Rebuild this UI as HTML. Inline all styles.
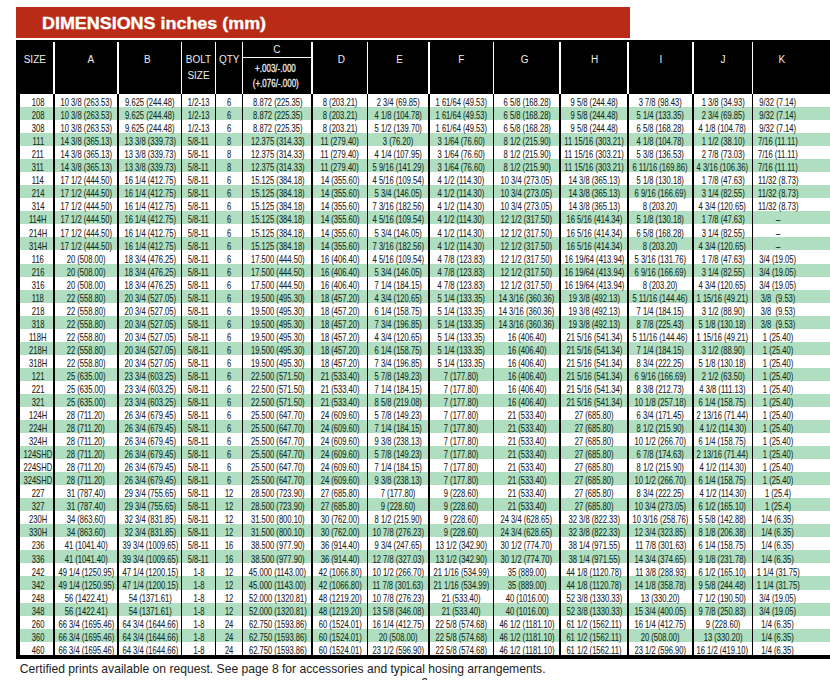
<!DOCTYPE html><html><head><meta charset="utf-8"><style>
html,body{margin:0;padding:0;background:#fff;}
body{width:830px;height:680px;position:relative;overflow:hidden;font-family:"Liberation Sans",sans-serif;}
.a{position:absolute;}
.c{position:absolute;display:flex;justify-content:center;white-space:pre;font-size:11px;line-height:13.04px;color:#232323;-webkit-text-stroke:0.1px currentColor;}
.c span{display:inline-block;transform:scaleX(0.69);transform-origin:50% 50%;}
.g{color:#17301f;}
.h{position:absolute;color:#ececec;white-space:pre;font-size:10px;line-height:11px;}
</style></head><body>
<div class="a" style="left:16px;top:7px;width:613.8px;height:30.8px;background:#b92b16"></div>
<div class="a" style="left:41.5px;top:14.5px;font-size:16px;line-height:18px;font-weight:bold;color:#fff;white-space:pre;transform:scaleX(1.12);transform-origin:0 0;-webkit-text-stroke:0.35px #fff">DIMENSIONS inches (mm)</div>
<div class="a" style="left:16px;top:39.5px;width:814px;height:54.50px;background:#000"></div>
<div class="a" style="left:16px;top:94.00px;width:3.6px;height:564.42px;background:#000"></div>
<div class="a" style="left:16px;top:654.72px;width:814px;height:4px;background:#000"></div>
<div class="a" style="left:19.60px;top:107.04px;width:810.40px;height:13.04px;background:#b0dec0"></div>
<div class="a" style="left:19.60px;top:133.12px;width:810.40px;height:13.04px;background:#b0dec0"></div>
<div class="a" style="left:19.60px;top:159.20px;width:810.40px;height:13.04px;background:#b0dec0"></div>
<div class="a" style="left:19.60px;top:185.28px;width:810.40px;height:13.04px;background:#b0dec0"></div>
<div class="a" style="left:19.60px;top:211.36px;width:810.40px;height:13.04px;background:#b0dec0"></div>
<div class="a" style="left:19.60px;top:237.44px;width:810.40px;height:13.04px;background:#b0dec0"></div>
<div class="a" style="left:19.60px;top:263.52px;width:810.40px;height:13.04px;background:#b0dec0"></div>
<div class="a" style="left:19.60px;top:289.60px;width:810.40px;height:13.04px;background:#b0dec0"></div>
<div class="a" style="left:19.60px;top:315.68px;width:810.40px;height:13.04px;background:#b0dec0"></div>
<div class="a" style="left:19.60px;top:341.76px;width:810.40px;height:13.04px;background:#b0dec0"></div>
<div class="a" style="left:19.60px;top:367.84px;width:810.40px;height:13.04px;background:#b0dec0"></div>
<div class="a" style="left:19.60px;top:393.92px;width:810.40px;height:13.04px;background:#b0dec0"></div>
<div class="a" style="left:19.60px;top:420.00px;width:810.40px;height:13.04px;background:#b0dec0"></div>
<div class="a" style="left:19.60px;top:446.08px;width:810.40px;height:13.04px;background:#b0dec0"></div>
<div class="a" style="left:19.60px;top:472.16px;width:810.40px;height:13.04px;background:#b0dec0"></div>
<div class="a" style="left:19.60px;top:498.24px;width:810.40px;height:13.04px;background:#b0dec0"></div>
<div class="a" style="left:19.60px;top:524.32px;width:810.40px;height:13.04px;background:#b0dec0"></div>
<div class="a" style="left:19.60px;top:550.40px;width:810.40px;height:13.04px;background:#b0dec0"></div>
<div class="a" style="left:19.60px;top:576.48px;width:810.40px;height:13.04px;background:#b0dec0"></div>
<div class="a" style="left:19.60px;top:602.56px;width:810.40px;height:13.04px;background:#b0dec0"></div>
<div class="a" style="left:19.60px;top:628.64px;width:810.40px;height:13.04px;background:#b0dec0"></div>
<div class="a" style="left:53.30px;top:94.00px;width:1.8px;height:560.72px;background:#000"></div>
<div class="a" style="left:53.40px;top:41.5px;width:1.6px;height:52.50px;background:#fff"></div>
<div class="a" style="left:117.30px;top:94.00px;width:1.8px;height:560.72px;background:#000"></div>
<div class="a" style="left:117.40px;top:41.5px;width:1.6px;height:52.50px;background:#fff"></div>
<div class="a" style="left:180.70px;top:94.00px;width:1.8px;height:560.72px;background:#000"></div>
<div class="a" style="left:180.80px;top:41.5px;width:1.6px;height:52.50px;background:#fff"></div>
<div class="a" style="left:214.60px;top:94.00px;width:1.8px;height:560.72px;background:#000"></div>
<div class="a" style="left:214.70px;top:41.5px;width:1.6px;height:52.50px;background:#fff"></div>
<div class="a" style="left:241.70px;top:94.00px;width:1.8px;height:560.72px;background:#000"></div>
<div class="a" style="left:241.80px;top:41.5px;width:1.6px;height:52.50px;background:#fff"></div>
<div class="a" style="left:311.30px;top:94.00px;width:1.8px;height:560.72px;background:#000"></div>
<div class="a" style="left:311.40px;top:41.5px;width:1.6px;height:52.50px;background:#fff"></div>
<div class="a" style="left:366.50px;top:94.00px;width:1.8px;height:560.72px;background:#000"></div>
<div class="a" style="left:366.60px;top:41.5px;width:1.6px;height:52.50px;background:#fff"></div>
<div class="a" style="left:428.10px;top:94.00px;width:1.8px;height:560.72px;background:#000"></div>
<div class="a" style="left:428.20px;top:41.5px;width:1.6px;height:52.50px;background:#fff"></div>
<div class="a" style="left:492.70px;top:94.00px;width:1.8px;height:560.72px;background:#000"></div>
<div class="a" style="left:492.80px;top:41.5px;width:1.6px;height:52.50px;background:#fff"></div>
<div class="a" style="left:559.00px;top:94.00px;width:1.8px;height:560.72px;background:#000"></div>
<div class="a" style="left:559.10px;top:41.5px;width:1.6px;height:52.50px;background:#fff"></div>
<div class="a" style="left:627.10px;top:94.00px;width:1.8px;height:560.72px;background:#000"></div>
<div class="a" style="left:627.20px;top:41.5px;width:1.6px;height:52.50px;background:#fff"></div>
<div class="a" style="left:692.00px;top:94.00px;width:1.8px;height:560.72px;background:#000"></div>
<div class="a" style="left:692.10px;top:41.5px;width:1.6px;height:52.50px;background:#fff"></div>
<div class="a" style="left:751.70px;top:94.00px;width:1.8px;height:560.72px;background:#000"></div>
<div class="a" style="left:751.80px;top:41.5px;width:1.6px;height:52.50px;background:#fff"></div>
<div class="a" style="left:242.60px;top:56.6px;width:69.60px;height:1.5px;background:#fff"></div>
<div class="c" style="left:22.00px;top:96.10px;width:32.20px"><span>108</span></div>
<div class="c" style="left:54.20px;top:96.10px;width:64.00px"><span>10 3/8 (263.53)</span></div>
<div class="c" style="left:118.20px;top:96.10px;width:63.40px"><span>9.625 (244.48)</span></div>
<div class="c" style="left:181.60px;top:96.10px;width:33.90px"><span>1/2-13</span></div>
<div class="c" style="left:215.50px;top:96.10px;width:27.10px"><span>6</span></div>
<div class="c" style="left:242.60px;top:96.10px;width:69.60px"><span>8.872 (225.35)</span></div>
<div class="c" style="left:312.20px;top:96.10px;width:55.20px"><span>8 (203.21)</span></div>
<div class="c" style="left:367.40px;top:96.10px;width:61.60px"><span>2 3/4 (69.85)</span></div>
<div class="c" style="left:429.00px;top:96.10px;width:64.60px"><span>1 61/64 (49.53)</span></div>
<div class="c" style="left:493.60px;top:96.10px;width:66.30px"><span>6 5/8 (168.28)</span></div>
<div class="c" style="left:559.90px;top:96.10px;width:68.10px"><span>9 5/8 (244.48)</span></div>
<div class="c" style="left:628.00px;top:96.10px;width:64.90px"><span>3 7/8 (98.43)</span></div>
<div class="c" style="left:692.90px;top:96.10px;width:59.70px"><span>1 3/8 (34.93)</span></div>
<div class="c" style="left:752.60px;top:96.10px;width:50.90px"><span>9/32 (7.14)</span></div>
<div class="c g" style="left:22.00px;top:109.14px;width:32.20px"><span>208</span></div>
<div class="c g" style="left:54.20px;top:109.14px;width:64.00px"><span>10 3/8 (263.53)</span></div>
<div class="c g" style="left:118.20px;top:109.14px;width:63.40px"><span>9.625 (244.48)</span></div>
<div class="c g" style="left:181.60px;top:109.14px;width:33.90px"><span>1/2-13</span></div>
<div class="c g" style="left:215.50px;top:109.14px;width:27.10px"><span>6</span></div>
<div class="c g" style="left:242.60px;top:109.14px;width:69.60px"><span>8.872 (225.35)</span></div>
<div class="c g" style="left:312.20px;top:109.14px;width:55.20px"><span>8 (203.21)</span></div>
<div class="c g" style="left:367.40px;top:109.14px;width:61.60px"><span>4 1/8 (104.78)</span></div>
<div class="c g" style="left:429.00px;top:109.14px;width:64.60px"><span>1 61/64 (49.53)</span></div>
<div class="c g" style="left:493.60px;top:109.14px;width:66.30px"><span>6 5/8 (168.28)</span></div>
<div class="c g" style="left:559.90px;top:109.14px;width:68.10px"><span>9 5/8 (244.48)</span></div>
<div class="c g" style="left:628.00px;top:109.14px;width:64.90px"><span>5 1/4 (133.35)</span></div>
<div class="c g" style="left:692.90px;top:109.14px;width:59.70px"><span>2 3/4 (69.85)</span></div>
<div class="c g" style="left:752.60px;top:109.14px;width:50.90px"><span>9/32 (7.14)</span></div>
<div class="c" style="left:22.00px;top:122.18px;width:32.20px"><span>308</span></div>
<div class="c" style="left:54.20px;top:122.18px;width:64.00px"><span>10 3/8 (263.53)</span></div>
<div class="c" style="left:118.20px;top:122.18px;width:63.40px"><span>9.625 (244.48)</span></div>
<div class="c" style="left:181.60px;top:122.18px;width:33.90px"><span>1/2-13</span></div>
<div class="c" style="left:215.50px;top:122.18px;width:27.10px"><span>6</span></div>
<div class="c" style="left:242.60px;top:122.18px;width:69.60px"><span>8.872 (225.35)</span></div>
<div class="c" style="left:312.20px;top:122.18px;width:55.20px"><span>8 (203.21)</span></div>
<div class="c" style="left:367.40px;top:122.18px;width:61.60px"><span>5 1/2 (139.70)</span></div>
<div class="c" style="left:429.00px;top:122.18px;width:64.60px"><span>1 61/64 (49.53)</span></div>
<div class="c" style="left:493.60px;top:122.18px;width:66.30px"><span>6 5/8 (168.28)</span></div>
<div class="c" style="left:559.90px;top:122.18px;width:68.10px"><span>9 5/8 (244.48)</span></div>
<div class="c" style="left:628.00px;top:122.18px;width:64.90px"><span>6 5/8 (168.28)</span></div>
<div class="c" style="left:692.90px;top:122.18px;width:59.70px"><span>4 1/8 (104.78)</span></div>
<div class="c" style="left:752.60px;top:122.18px;width:50.90px"><span>9/32 (7.14)</span></div>
<div class="c g" style="left:22.00px;top:135.22px;width:32.20px"><span>111</span></div>
<div class="c g" style="left:54.20px;top:135.22px;width:64.00px"><span>14 3/8 (365.13)</span></div>
<div class="c g" style="left:118.20px;top:135.22px;width:63.40px"><span>13 3/8 (339.73)</span></div>
<div class="c g" style="left:181.60px;top:135.22px;width:33.90px"><span>5/8-11</span></div>
<div class="c g" style="left:215.50px;top:135.22px;width:27.10px"><span>8</span></div>
<div class="c g" style="left:242.60px;top:135.22px;width:69.60px"><span>12.375 (314.33)</span></div>
<div class="c g" style="left:312.20px;top:135.22px;width:55.20px"><span>11 (279.40)</span></div>
<div class="c g" style="left:367.40px;top:135.22px;width:61.60px"><span>3 (76.20)</span></div>
<div class="c g" style="left:429.00px;top:135.22px;width:64.60px"><span>3 1/64 (76.60)</span></div>
<div class="c g" style="left:493.60px;top:135.22px;width:66.30px"><span>8 1/2 (215.90)</span></div>
<div class="c g" style="left:559.90px;top:135.22px;width:68.10px"><span>11 15/16 (303.21)</span></div>
<div class="c g" style="left:628.00px;top:135.22px;width:64.90px"><span>4 1/8 (104.78)</span></div>
<div class="c g" style="left:692.90px;top:135.22px;width:59.70px"><span>1 1/2 (38.10)</span></div>
<div class="c g" style="left:752.60px;top:135.22px;width:50.90px"><span>7/16 (11.11)</span></div>
<div class="c" style="left:22.00px;top:148.26px;width:32.20px"><span>211</span></div>
<div class="c" style="left:54.20px;top:148.26px;width:64.00px"><span>14 3/8 (365.13)</span></div>
<div class="c" style="left:118.20px;top:148.26px;width:63.40px"><span>13 3/8 (339.73)</span></div>
<div class="c" style="left:181.60px;top:148.26px;width:33.90px"><span>5/8-11</span></div>
<div class="c" style="left:215.50px;top:148.26px;width:27.10px"><span>8</span></div>
<div class="c" style="left:242.60px;top:148.26px;width:69.60px"><span>12.375 (314.33)</span></div>
<div class="c" style="left:312.20px;top:148.26px;width:55.20px"><span>11 (279.40)</span></div>
<div class="c" style="left:367.40px;top:148.26px;width:61.60px"><span>4 1/4 (107.95)</span></div>
<div class="c" style="left:429.00px;top:148.26px;width:64.60px"><span>3 1/64 (76.60)</span></div>
<div class="c" style="left:493.60px;top:148.26px;width:66.30px"><span>8 1/2 (215.90)</span></div>
<div class="c" style="left:559.90px;top:148.26px;width:68.10px"><span>11 15/16 (303.21)</span></div>
<div class="c" style="left:628.00px;top:148.26px;width:64.90px"><span>5 3/8 (136.53)</span></div>
<div class="c" style="left:692.90px;top:148.26px;width:59.70px"><span>2 7/8 (73.03)</span></div>
<div class="c" style="left:752.60px;top:148.26px;width:50.90px"><span>7/16 (11.11)</span></div>
<div class="c g" style="left:22.00px;top:161.30px;width:32.20px"><span>311</span></div>
<div class="c g" style="left:54.20px;top:161.30px;width:64.00px"><span>14 3/8 (365.13)</span></div>
<div class="c g" style="left:118.20px;top:161.30px;width:63.40px"><span>13 3/8 (339.73)</span></div>
<div class="c g" style="left:181.60px;top:161.30px;width:33.90px"><span>5/8-11</span></div>
<div class="c g" style="left:215.50px;top:161.30px;width:27.10px"><span>8</span></div>
<div class="c g" style="left:242.60px;top:161.30px;width:69.60px"><span>12.375 (314.33)</span></div>
<div class="c g" style="left:312.20px;top:161.30px;width:55.20px"><span>11 (279.40)</span></div>
<div class="c g" style="left:367.40px;top:161.30px;width:61.60px"><span>5 9/16 (141.29)</span></div>
<div class="c g" style="left:429.00px;top:161.30px;width:64.60px"><span>3 1/64 (76.60)</span></div>
<div class="c g" style="left:493.60px;top:161.30px;width:66.30px"><span>8 1/2 (215.90)</span></div>
<div class="c g" style="left:559.90px;top:161.30px;width:68.10px"><span>11 15/16 (303.21)</span></div>
<div class="c g" style="left:628.00px;top:161.30px;width:64.90px"><span>6 11/16 (169.86)</span></div>
<div class="c g" style="left:692.90px;top:161.30px;width:59.70px"><span>4 3/16 (106.36)</span></div>
<div class="c g" style="left:752.60px;top:161.30px;width:50.90px"><span>7/16 (11.11)</span></div>
<div class="c" style="left:22.00px;top:174.34px;width:32.20px"><span>114</span></div>
<div class="c" style="left:54.20px;top:174.34px;width:64.00px"><span>17 1/2 (444.50)</span></div>
<div class="c" style="left:118.20px;top:174.34px;width:63.40px"><span>16 1/4 (412.75)</span></div>
<div class="c" style="left:181.60px;top:174.34px;width:33.90px"><span>5/8-11</span></div>
<div class="c" style="left:215.50px;top:174.34px;width:27.10px"><span>6</span></div>
<div class="c" style="left:242.60px;top:174.34px;width:69.60px"><span>15.125 (384.18)</span></div>
<div class="c" style="left:312.20px;top:174.34px;width:55.20px"><span>14 (355.60)</span></div>
<div class="c" style="left:367.40px;top:174.34px;width:61.60px"><span>4 5/16 (109.54)</span></div>
<div class="c" style="left:429.00px;top:174.34px;width:64.60px"><span>4 1/2 (114.30)</span></div>
<div class="c" style="left:493.60px;top:174.34px;width:66.30px"><span>10 3/4 (273.05)</span></div>
<div class="c" style="left:559.90px;top:174.34px;width:68.10px"><span>14 3/8 (365.13)</span></div>
<div class="c" style="left:628.00px;top:174.34px;width:64.90px"><span>5 1/8 (130.18)</span></div>
<div class="c" style="left:692.90px;top:174.34px;width:59.70px"><span>1 7/8 (47.63)</span></div>
<div class="c" style="left:752.60px;top:174.34px;width:50.90px"><span>11/32 (8.73)</span></div>
<div class="c g" style="left:22.00px;top:187.38px;width:32.20px"><span>214</span></div>
<div class="c g" style="left:54.20px;top:187.38px;width:64.00px"><span>17 1/2 (444.50)</span></div>
<div class="c g" style="left:118.20px;top:187.38px;width:63.40px"><span>16 1/4 (412.75)</span></div>
<div class="c g" style="left:181.60px;top:187.38px;width:33.90px"><span>5/8-11</span></div>
<div class="c g" style="left:215.50px;top:187.38px;width:27.10px"><span>6</span></div>
<div class="c g" style="left:242.60px;top:187.38px;width:69.60px"><span>15.125 (384.18)</span></div>
<div class="c g" style="left:312.20px;top:187.38px;width:55.20px"><span>14 (355.60)</span></div>
<div class="c g" style="left:367.40px;top:187.38px;width:61.60px"><span>5 3/4 (146.05)</span></div>
<div class="c g" style="left:429.00px;top:187.38px;width:64.60px"><span>4 1/2 (114.30)</span></div>
<div class="c g" style="left:493.60px;top:187.38px;width:66.30px"><span>10 3/4 (273.05)</span></div>
<div class="c g" style="left:559.90px;top:187.38px;width:68.10px"><span>14 3/8 (365.13)</span></div>
<div class="c g" style="left:628.00px;top:187.38px;width:64.90px"><span>6 9/16 (166.69)</span></div>
<div class="c g" style="left:692.90px;top:187.38px;width:59.70px"><span>3 1/4 (82.55)</span></div>
<div class="c g" style="left:752.60px;top:187.38px;width:50.90px"><span>11/32 (8.73)</span></div>
<div class="c" style="left:22.00px;top:200.42px;width:32.20px"><span>314</span></div>
<div class="c" style="left:54.20px;top:200.42px;width:64.00px"><span>17 1/2 (444.50)</span></div>
<div class="c" style="left:118.20px;top:200.42px;width:63.40px"><span>16 1/4 (412.75)</span></div>
<div class="c" style="left:181.60px;top:200.42px;width:33.90px"><span>5/8-11</span></div>
<div class="c" style="left:215.50px;top:200.42px;width:27.10px"><span>6</span></div>
<div class="c" style="left:242.60px;top:200.42px;width:69.60px"><span>15.125 (384.18)</span></div>
<div class="c" style="left:312.20px;top:200.42px;width:55.20px"><span>14 (355.60)</span></div>
<div class="c" style="left:367.40px;top:200.42px;width:61.60px"><span>7 3/16 (182.56)</span></div>
<div class="c" style="left:429.00px;top:200.42px;width:64.60px"><span>4 1/2 (114.30)</span></div>
<div class="c" style="left:493.60px;top:200.42px;width:66.30px"><span>10 3/4 (273.05)</span></div>
<div class="c" style="left:559.90px;top:200.42px;width:68.10px"><span>14 3/8 (365.13)</span></div>
<div class="c" style="left:628.00px;top:200.42px;width:64.90px"><span>8 (203.20)</span></div>
<div class="c" style="left:692.90px;top:200.42px;width:59.70px"><span>4 3/4 (120.65)</span></div>
<div class="c" style="left:752.60px;top:200.42px;width:50.90px"><span>11/32 (8.73)</span></div>
<div class="c g" style="left:22.00px;top:213.46px;width:32.20px"><span>114H</span></div>
<div class="c g" style="left:54.20px;top:213.46px;width:64.00px"><span>17 1/2 (444.50)</span></div>
<div class="c g" style="left:118.20px;top:213.46px;width:63.40px"><span>16 1/4 (412.75)</span></div>
<div class="c g" style="left:181.60px;top:213.46px;width:33.90px"><span>5/8-11</span></div>
<div class="c g" style="left:215.50px;top:213.46px;width:27.10px"><span>6</span></div>
<div class="c g" style="left:242.60px;top:213.46px;width:69.60px"><span>15.125 (384.18)</span></div>
<div class="c g" style="left:312.20px;top:213.46px;width:55.20px"><span>14 (355.60)</span></div>
<div class="c g" style="left:367.40px;top:213.46px;width:61.60px"><span>4 5/16 (109.54)</span></div>
<div class="c g" style="left:429.00px;top:213.46px;width:64.60px"><span>4 1/2 (114.30)</span></div>
<div class="c g" style="left:493.60px;top:213.46px;width:66.30px"><span>12 1/2 (317.50)</span></div>
<div class="c g" style="left:559.90px;top:213.46px;width:68.10px"><span>16 5/16 (414.34)</span></div>
<div class="c g" style="left:628.00px;top:213.46px;width:64.90px"><span>5 1/8 (130.18)</span></div>
<div class="c g" style="left:692.90px;top:213.46px;width:59.70px"><span>1 7/8 (47.63)</span></div>
<div class="c g" style="left:752.60px;top:213.46px;width:50.90px"><span>–</span></div>
<div class="c" style="left:22.00px;top:226.50px;width:32.20px"><span>214H</span></div>
<div class="c" style="left:54.20px;top:226.50px;width:64.00px"><span>17 1/2 (444.50)</span></div>
<div class="c" style="left:118.20px;top:226.50px;width:63.40px"><span>16 1/4 (412.75)</span></div>
<div class="c" style="left:181.60px;top:226.50px;width:33.90px"><span>5/8-11</span></div>
<div class="c" style="left:215.50px;top:226.50px;width:27.10px"><span>6</span></div>
<div class="c" style="left:242.60px;top:226.50px;width:69.60px"><span>15.125 (384.18)</span></div>
<div class="c" style="left:312.20px;top:226.50px;width:55.20px"><span>14 (355.60)</span></div>
<div class="c" style="left:367.40px;top:226.50px;width:61.60px"><span>5 3/4 (146.05)</span></div>
<div class="c" style="left:429.00px;top:226.50px;width:64.60px"><span>4 1/2 (114.30)</span></div>
<div class="c" style="left:493.60px;top:226.50px;width:66.30px"><span>12 1/2 (317.50)</span></div>
<div class="c" style="left:559.90px;top:226.50px;width:68.10px"><span>16 5/16 (414.34)</span></div>
<div class="c" style="left:628.00px;top:226.50px;width:64.90px"><span>6 5/8 (168.28)</span></div>
<div class="c" style="left:692.90px;top:226.50px;width:59.70px"><span>3 1/4 (82.55)</span></div>
<div class="c" style="left:752.60px;top:226.50px;width:50.90px"><span>–</span></div>
<div class="c g" style="left:22.00px;top:239.54px;width:32.20px"><span>314H</span></div>
<div class="c g" style="left:54.20px;top:239.54px;width:64.00px"><span>17 1/2 (444.50)</span></div>
<div class="c g" style="left:118.20px;top:239.54px;width:63.40px"><span>16 1/4 (412.75)</span></div>
<div class="c g" style="left:181.60px;top:239.54px;width:33.90px"><span>5/8-11</span></div>
<div class="c g" style="left:215.50px;top:239.54px;width:27.10px"><span>6</span></div>
<div class="c g" style="left:242.60px;top:239.54px;width:69.60px"><span>15.125 (384.18)</span></div>
<div class="c g" style="left:312.20px;top:239.54px;width:55.20px"><span>14 (355.60)</span></div>
<div class="c g" style="left:367.40px;top:239.54px;width:61.60px"><span>7 3/16 (182.56)</span></div>
<div class="c g" style="left:429.00px;top:239.54px;width:64.60px"><span>4 1/2 (114.30)</span></div>
<div class="c g" style="left:493.60px;top:239.54px;width:66.30px"><span>12 1/2 (317.50)</span></div>
<div class="c g" style="left:559.90px;top:239.54px;width:68.10px"><span>16 5/16 (414.34)</span></div>
<div class="c g" style="left:628.00px;top:239.54px;width:64.90px"><span>8 (203.20)</span></div>
<div class="c g" style="left:692.90px;top:239.54px;width:59.70px"><span>4 3/4 (120.65)</span></div>
<div class="c g" style="left:752.60px;top:239.54px;width:50.90px"><span>–</span></div>
<div class="c" style="left:22.00px;top:252.58px;width:32.20px"><span>116</span></div>
<div class="c" style="left:54.20px;top:252.58px;width:64.00px"><span>20 (508.00)</span></div>
<div class="c" style="left:118.20px;top:252.58px;width:63.40px"><span>18 3/4 (476.25)</span></div>
<div class="c" style="left:181.60px;top:252.58px;width:33.90px"><span>5/8-11</span></div>
<div class="c" style="left:215.50px;top:252.58px;width:27.10px"><span>6</span></div>
<div class="c" style="left:242.60px;top:252.58px;width:69.60px"><span>17.500 (444.50)</span></div>
<div class="c" style="left:312.20px;top:252.58px;width:55.20px"><span>16 (406.40)</span></div>
<div class="c" style="left:367.40px;top:252.58px;width:61.60px"><span>4 5/16 (109.54)</span></div>
<div class="c" style="left:429.00px;top:252.58px;width:64.60px"><span>4 7/8 (123.83)</span></div>
<div class="c" style="left:493.60px;top:252.58px;width:66.30px"><span>12 1/2 (317.50)</span></div>
<div class="c" style="left:559.90px;top:252.58px;width:68.10px"><span>16 19/64 (413.94)</span></div>
<div class="c" style="left:628.00px;top:252.58px;width:64.90px"><span>5 3/16 (131.76)</span></div>
<div class="c" style="left:692.90px;top:252.58px;width:59.70px"><span>1 7/8 (47.63)</span></div>
<div class="c" style="left:752.60px;top:252.58px;width:50.90px"><span>3/4 (19.05)</span></div>
<div class="c g" style="left:22.00px;top:265.62px;width:32.20px"><span>216</span></div>
<div class="c g" style="left:54.20px;top:265.62px;width:64.00px"><span>20 (508.00)</span></div>
<div class="c g" style="left:118.20px;top:265.62px;width:63.40px"><span>18 3/4 (476.25)</span></div>
<div class="c g" style="left:181.60px;top:265.62px;width:33.90px"><span>5/8-11</span></div>
<div class="c g" style="left:215.50px;top:265.62px;width:27.10px"><span>6</span></div>
<div class="c g" style="left:242.60px;top:265.62px;width:69.60px"><span>17.500 (444.50)</span></div>
<div class="c g" style="left:312.20px;top:265.62px;width:55.20px"><span>16 (406.40)</span></div>
<div class="c g" style="left:367.40px;top:265.62px;width:61.60px"><span>5 3/4 (146.05)</span></div>
<div class="c g" style="left:429.00px;top:265.62px;width:64.60px"><span>4 7/8 (123.83)</span></div>
<div class="c g" style="left:493.60px;top:265.62px;width:66.30px"><span>12 1/2 (317.50)</span></div>
<div class="c g" style="left:559.90px;top:265.62px;width:68.10px"><span>16 19/64 (413.94)</span></div>
<div class="c g" style="left:628.00px;top:265.62px;width:64.90px"><span>6 9/16 (166.69)</span></div>
<div class="c g" style="left:692.90px;top:265.62px;width:59.70px"><span>3 1/4 (82.55)</span></div>
<div class="c g" style="left:752.60px;top:265.62px;width:50.90px"><span>3/4 (19.05)</span></div>
<div class="c" style="left:22.00px;top:278.66px;width:32.20px"><span>316</span></div>
<div class="c" style="left:54.20px;top:278.66px;width:64.00px"><span>20 (508.00)</span></div>
<div class="c" style="left:118.20px;top:278.66px;width:63.40px"><span>18 3/4 (476.25)</span></div>
<div class="c" style="left:181.60px;top:278.66px;width:33.90px"><span>5/8-11</span></div>
<div class="c" style="left:215.50px;top:278.66px;width:27.10px"><span>6</span></div>
<div class="c" style="left:242.60px;top:278.66px;width:69.60px"><span>17.500 (444.50)</span></div>
<div class="c" style="left:312.20px;top:278.66px;width:55.20px"><span>16 (406.40)</span></div>
<div class="c" style="left:367.40px;top:278.66px;width:61.60px"><span>7 1/4 (184.15)</span></div>
<div class="c" style="left:429.00px;top:278.66px;width:64.60px"><span>4 7/8 (123.83)</span></div>
<div class="c" style="left:493.60px;top:278.66px;width:66.30px"><span>12 1/2 (317.50)</span></div>
<div class="c" style="left:559.90px;top:278.66px;width:68.10px"><span>16 19/64 (413.94)</span></div>
<div class="c" style="left:628.00px;top:278.66px;width:64.90px"><span>8 (203.20)</span></div>
<div class="c" style="left:692.90px;top:278.66px;width:59.70px"><span>4 3/4 (120.65)</span></div>
<div class="c" style="left:752.60px;top:278.66px;width:50.90px"><span>3/4 (19.05)</span></div>
<div class="c g" style="left:22.00px;top:291.70px;width:32.20px"><span>118</span></div>
<div class="c g" style="left:54.20px;top:291.70px;width:64.00px"><span>22 (558.80)</span></div>
<div class="c g" style="left:118.20px;top:291.70px;width:63.40px"><span>20 3/4 (527.05)</span></div>
<div class="c g" style="left:181.60px;top:291.70px;width:33.90px"><span>5/8-11</span></div>
<div class="c g" style="left:215.50px;top:291.70px;width:27.10px"><span>6</span></div>
<div class="c g" style="left:242.60px;top:291.70px;width:69.60px"><span>19.500 (495.30)</span></div>
<div class="c g" style="left:312.20px;top:291.70px;width:55.20px"><span>18 (457.20)</span></div>
<div class="c g" style="left:367.40px;top:291.70px;width:61.60px"><span>4 3/4 (120.65)</span></div>
<div class="c g" style="left:429.00px;top:291.70px;width:64.60px"><span>5 1/4 (133.35)</span></div>
<div class="c g" style="left:493.60px;top:291.70px;width:66.30px"><span>14 3/16 (360.36)</span></div>
<div class="c g" style="left:559.90px;top:291.70px;width:68.10px"><span>19 3/8 (492.13)</span></div>
<div class="c g" style="left:628.00px;top:291.70px;width:64.90px"><span>5 11/16 (144.46)</span></div>
<div class="c g" style="left:692.90px;top:291.70px;width:59.70px"><span>1 15/16 (49.21)</span></div>
<div class="c g" style="left:752.60px;top:291.70px;width:50.90px"><span>3/8  (9.53)</span></div>
<div class="c" style="left:22.00px;top:304.74px;width:32.20px"><span>218</span></div>
<div class="c" style="left:54.20px;top:304.74px;width:64.00px"><span>22 (558.80)</span></div>
<div class="c" style="left:118.20px;top:304.74px;width:63.40px"><span>20 3/4 (527.05)</span></div>
<div class="c" style="left:181.60px;top:304.74px;width:33.90px"><span>5/8-11</span></div>
<div class="c" style="left:215.50px;top:304.74px;width:27.10px"><span>6</span></div>
<div class="c" style="left:242.60px;top:304.74px;width:69.60px"><span>19.500 (495.30)</span></div>
<div class="c" style="left:312.20px;top:304.74px;width:55.20px"><span>18 (457.20)</span></div>
<div class="c" style="left:367.40px;top:304.74px;width:61.60px"><span>6 1/4 (158.75)</span></div>
<div class="c" style="left:429.00px;top:304.74px;width:64.60px"><span>5 1/4 (133.35)</span></div>
<div class="c" style="left:493.60px;top:304.74px;width:66.30px"><span>14 3/16 (360.36)</span></div>
<div class="c" style="left:559.90px;top:304.74px;width:68.10px"><span>19 3/8 (492.13)</span></div>
<div class="c" style="left:628.00px;top:304.74px;width:64.90px"><span>7 1/4 (184.15)</span></div>
<div class="c" style="left:692.90px;top:304.74px;width:59.70px"><span>3 1/2 (88.90)</span></div>
<div class="c" style="left:752.60px;top:304.74px;width:50.90px"><span>3/8  (9.53)</span></div>
<div class="c g" style="left:22.00px;top:317.78px;width:32.20px"><span>318</span></div>
<div class="c g" style="left:54.20px;top:317.78px;width:64.00px"><span>22 (558.80)</span></div>
<div class="c g" style="left:118.20px;top:317.78px;width:63.40px"><span>20 3/4 (527.05)</span></div>
<div class="c g" style="left:181.60px;top:317.78px;width:33.90px"><span>5/8-11</span></div>
<div class="c g" style="left:215.50px;top:317.78px;width:27.10px"><span>6</span></div>
<div class="c g" style="left:242.60px;top:317.78px;width:69.60px"><span>19.500 (495.30)</span></div>
<div class="c g" style="left:312.20px;top:317.78px;width:55.20px"><span>18 (457.20)</span></div>
<div class="c g" style="left:367.40px;top:317.78px;width:61.60px"><span>7 3/4 (196.85)</span></div>
<div class="c g" style="left:429.00px;top:317.78px;width:64.60px"><span>5 1/4 (133.35)</span></div>
<div class="c g" style="left:493.60px;top:317.78px;width:66.30px"><span>14 3/16 (360.36)</span></div>
<div class="c g" style="left:559.90px;top:317.78px;width:68.10px"><span>19 3/8 (492.13)</span></div>
<div class="c g" style="left:628.00px;top:317.78px;width:64.90px"><span>8 7/8 (225.43)</span></div>
<div class="c g" style="left:692.90px;top:317.78px;width:59.70px"><span>5 1/8 (130.18)</span></div>
<div class="c g" style="left:752.60px;top:317.78px;width:50.90px"><span>3/8  (9.53)</span></div>
<div class="c" style="left:22.00px;top:330.82px;width:32.20px"><span>118H</span></div>
<div class="c" style="left:54.20px;top:330.82px;width:64.00px"><span>22 (558.80)</span></div>
<div class="c" style="left:118.20px;top:330.82px;width:63.40px"><span>20 3/4 (527.05)</span></div>
<div class="c" style="left:181.60px;top:330.82px;width:33.90px"><span>5/8-11</span></div>
<div class="c" style="left:215.50px;top:330.82px;width:27.10px"><span>6</span></div>
<div class="c" style="left:242.60px;top:330.82px;width:69.60px"><span>19.500 (495.30)</span></div>
<div class="c" style="left:312.20px;top:330.82px;width:55.20px"><span>18 (457.20)</span></div>
<div class="c" style="left:367.40px;top:330.82px;width:61.60px"><span>4 3/4 (120.65)</span></div>
<div class="c" style="left:429.00px;top:330.82px;width:64.60px"><span>5 1/4 (133.35)</span></div>
<div class="c" style="left:493.60px;top:330.82px;width:66.30px"><span>16 (406.40)</span></div>
<div class="c" style="left:559.90px;top:330.82px;width:68.10px"><span>21 5/16 (541.34)</span></div>
<div class="c" style="left:628.00px;top:330.82px;width:64.90px"><span>5 11/16 (144.46)</span></div>
<div class="c" style="left:692.90px;top:330.82px;width:59.70px"><span>1 15/16 (49.21)</span></div>
<div class="c" style="left:752.60px;top:330.82px;width:50.90px"><span>1 (25.40)</span></div>
<div class="c g" style="left:22.00px;top:343.86px;width:32.20px"><span>218H</span></div>
<div class="c g" style="left:54.20px;top:343.86px;width:64.00px"><span>22 (558.80)</span></div>
<div class="c g" style="left:118.20px;top:343.86px;width:63.40px"><span>20 3/4 (527.05)</span></div>
<div class="c g" style="left:181.60px;top:343.86px;width:33.90px"><span>5/8-11</span></div>
<div class="c g" style="left:215.50px;top:343.86px;width:27.10px"><span>6</span></div>
<div class="c g" style="left:242.60px;top:343.86px;width:69.60px"><span>19.500 (495.30)</span></div>
<div class="c g" style="left:312.20px;top:343.86px;width:55.20px"><span>18 (457.20)</span></div>
<div class="c g" style="left:367.40px;top:343.86px;width:61.60px"><span>6 1/4 (158.75)</span></div>
<div class="c g" style="left:429.00px;top:343.86px;width:64.60px"><span>5 1/4 (133.35)</span></div>
<div class="c g" style="left:493.60px;top:343.86px;width:66.30px"><span>16 (406.40)</span></div>
<div class="c g" style="left:559.90px;top:343.86px;width:68.10px"><span>21 5/16 (541.34)</span></div>
<div class="c g" style="left:628.00px;top:343.86px;width:64.90px"><span>7 1/4 (184.15)</span></div>
<div class="c g" style="left:692.90px;top:343.86px;width:59.70px"><span>3 1/2 (88.90)</span></div>
<div class="c g" style="left:752.60px;top:343.86px;width:50.90px"><span>1 (25.40)</span></div>
<div class="c" style="left:22.00px;top:356.90px;width:32.20px"><span>318H</span></div>
<div class="c" style="left:54.20px;top:356.90px;width:64.00px"><span>22 (558.80)</span></div>
<div class="c" style="left:118.20px;top:356.90px;width:63.40px"><span>20 3/4 (527.05)</span></div>
<div class="c" style="left:181.60px;top:356.90px;width:33.90px"><span>5/8-11</span></div>
<div class="c" style="left:215.50px;top:356.90px;width:27.10px"><span>6</span></div>
<div class="c" style="left:242.60px;top:356.90px;width:69.60px"><span>19.500 (495.30)</span></div>
<div class="c" style="left:312.20px;top:356.90px;width:55.20px"><span>18 (457.20)</span></div>
<div class="c" style="left:367.40px;top:356.90px;width:61.60px"><span>7 3/4 (196.85)</span></div>
<div class="c" style="left:429.00px;top:356.90px;width:64.60px"><span>5 1/4 (133.35)</span></div>
<div class="c" style="left:493.60px;top:356.90px;width:66.30px"><span>16 (406.40)</span></div>
<div class="c" style="left:559.90px;top:356.90px;width:68.10px"><span>21 5/16 (541.34)</span></div>
<div class="c" style="left:628.00px;top:356.90px;width:64.90px"><span>8 3/4 (222.25)</span></div>
<div class="c" style="left:692.90px;top:356.90px;width:59.70px"><span>5 1/8 (130.18)</span></div>
<div class="c" style="left:752.60px;top:356.90px;width:50.90px"><span>1 (25.40)</span></div>
<div class="c g" style="left:22.00px;top:369.94px;width:32.20px"><span>121</span></div>
<div class="c g" style="left:54.20px;top:369.94px;width:64.00px"><span>25 (635.00)</span></div>
<div class="c g" style="left:118.20px;top:369.94px;width:63.40px"><span>23 3/4 (603.25)</span></div>
<div class="c g" style="left:181.60px;top:369.94px;width:33.90px"><span>5/8-11</span></div>
<div class="c g" style="left:215.50px;top:369.94px;width:27.10px"><span>6</span></div>
<div class="c g" style="left:242.60px;top:369.94px;width:69.60px"><span>22.500 (571.50)</span></div>
<div class="c g" style="left:312.20px;top:369.94px;width:55.20px"><span>21 (533.40)</span></div>
<div class="c g" style="left:367.40px;top:369.94px;width:61.60px"><span>5 7/8 (149.23)</span></div>
<div class="c g" style="left:429.00px;top:369.94px;width:64.60px"><span>7 (177.80)</span></div>
<div class="c g" style="left:493.60px;top:369.94px;width:66.30px"><span>16 (406.40)</span></div>
<div class="c g" style="left:559.90px;top:369.94px;width:68.10px"><span>21 5/16 (541.34)</span></div>
<div class="c g" style="left:628.00px;top:369.94px;width:64.90px"><span>6 9/16 (166.69)</span></div>
<div class="c g" style="left:692.90px;top:369.94px;width:59.70px"><span>2 1/2 (63.50)</span></div>
<div class="c g" style="left:752.60px;top:369.94px;width:50.90px"><span>1 (25.40)</span></div>
<div class="c" style="left:22.00px;top:382.98px;width:32.20px"><span>221</span></div>
<div class="c" style="left:54.20px;top:382.98px;width:64.00px"><span>25 (635.00)</span></div>
<div class="c" style="left:118.20px;top:382.98px;width:63.40px"><span>23 3/4 (603.25)</span></div>
<div class="c" style="left:181.60px;top:382.98px;width:33.90px"><span>5/8-11</span></div>
<div class="c" style="left:215.50px;top:382.98px;width:27.10px"><span>6</span></div>
<div class="c" style="left:242.60px;top:382.98px;width:69.60px"><span>22.500 (571.50)</span></div>
<div class="c" style="left:312.20px;top:382.98px;width:55.20px"><span>21 (533.40)</span></div>
<div class="c" style="left:367.40px;top:382.98px;width:61.60px"><span>7 1/4 (184.15)</span></div>
<div class="c" style="left:429.00px;top:382.98px;width:64.60px"><span>7 (177.80)</span></div>
<div class="c" style="left:493.60px;top:382.98px;width:66.30px"><span>16 (406.40)</span></div>
<div class="c" style="left:559.90px;top:382.98px;width:68.10px"><span>21 5/16 (541.34)</span></div>
<div class="c" style="left:628.00px;top:382.98px;width:64.90px"><span>8 3/8 (212.73)</span></div>
<div class="c" style="left:692.90px;top:382.98px;width:59.70px"><span>4 3/8 (111.13)</span></div>
<div class="c" style="left:752.60px;top:382.98px;width:50.90px"><span>1 (25.40)</span></div>
<div class="c g" style="left:22.00px;top:396.02px;width:32.20px"><span>321</span></div>
<div class="c g" style="left:54.20px;top:396.02px;width:64.00px"><span>25 (635.00)</span></div>
<div class="c g" style="left:118.20px;top:396.02px;width:63.40px"><span>23 3/4 (603.25)</span></div>
<div class="c g" style="left:181.60px;top:396.02px;width:33.90px"><span>5/8-11</span></div>
<div class="c g" style="left:215.50px;top:396.02px;width:27.10px"><span>6</span></div>
<div class="c g" style="left:242.60px;top:396.02px;width:69.60px"><span>22.500 (571.50)</span></div>
<div class="c g" style="left:312.20px;top:396.02px;width:55.20px"><span>21 (533.40)</span></div>
<div class="c g" style="left:367.40px;top:396.02px;width:61.60px"><span>8 5/8 (219.08)</span></div>
<div class="c g" style="left:429.00px;top:396.02px;width:64.60px"><span>7 (177.80)</span></div>
<div class="c g" style="left:493.60px;top:396.02px;width:66.30px"><span>16 (406.40)</span></div>
<div class="c g" style="left:559.90px;top:396.02px;width:68.10px"><span>21 5/16 (541.34)</span></div>
<div class="c g" style="left:628.00px;top:396.02px;width:64.90px"><span>10 1/8 (257.18)</span></div>
<div class="c g" style="left:692.90px;top:396.02px;width:59.70px"><span>6 1/4 (158.75)</span></div>
<div class="c g" style="left:752.60px;top:396.02px;width:50.90px"><span>1 (25.40)</span></div>
<div class="c" style="left:22.00px;top:409.06px;width:32.20px"><span>124H</span></div>
<div class="c" style="left:54.20px;top:409.06px;width:64.00px"><span>28 (711.20)</span></div>
<div class="c" style="left:118.20px;top:409.06px;width:63.40px"><span>26 3/4 (679.45)</span></div>
<div class="c" style="left:181.60px;top:409.06px;width:33.90px"><span>5/8-11</span></div>
<div class="c" style="left:215.50px;top:409.06px;width:27.10px"><span>6</span></div>
<div class="c" style="left:242.60px;top:409.06px;width:69.60px"><span>25.500 (647.70)</span></div>
<div class="c" style="left:312.20px;top:409.06px;width:55.20px"><span>24 (609.60)</span></div>
<div class="c" style="left:367.40px;top:409.06px;width:61.60px"><span>5 7/8 (149.23)</span></div>
<div class="c" style="left:429.00px;top:409.06px;width:64.60px"><span>7 (177.80)</span></div>
<div class="c" style="left:493.60px;top:409.06px;width:66.30px"><span>21 (533.40)</span></div>
<div class="c" style="left:559.90px;top:409.06px;width:68.10px"><span>27 (685.80)</span></div>
<div class="c" style="left:628.00px;top:409.06px;width:64.90px"><span>6 3/4 (171.45)</span></div>
<div class="c" style="left:692.90px;top:409.06px;width:59.70px"><span>2 13/16 (71.44)</span></div>
<div class="c" style="left:752.60px;top:409.06px;width:50.90px"><span>1 (25.40)</span></div>
<div class="c g" style="left:22.00px;top:422.10px;width:32.20px"><span>224H</span></div>
<div class="c g" style="left:54.20px;top:422.10px;width:64.00px"><span>28 (711.20)</span></div>
<div class="c g" style="left:118.20px;top:422.10px;width:63.40px"><span>26 3/4 (679.45)</span></div>
<div class="c g" style="left:181.60px;top:422.10px;width:33.90px"><span>5/8-11</span></div>
<div class="c g" style="left:215.50px;top:422.10px;width:27.10px"><span>6</span></div>
<div class="c g" style="left:242.60px;top:422.10px;width:69.60px"><span>25.500 (647.70)</span></div>
<div class="c g" style="left:312.20px;top:422.10px;width:55.20px"><span>24 (609.60)</span></div>
<div class="c g" style="left:367.40px;top:422.10px;width:61.60px"><span>7 1/4 (184.15)</span></div>
<div class="c g" style="left:429.00px;top:422.10px;width:64.60px"><span>7 (177.80)</span></div>
<div class="c g" style="left:493.60px;top:422.10px;width:66.30px"><span>21 (533.40)</span></div>
<div class="c g" style="left:559.90px;top:422.10px;width:68.10px"><span>27 (685.80)</span></div>
<div class="c g" style="left:628.00px;top:422.10px;width:64.90px"><span>8 1/2 (215.90)</span></div>
<div class="c g" style="left:692.90px;top:422.10px;width:59.70px"><span>4 1/2 (114.30)</span></div>
<div class="c g" style="left:752.60px;top:422.10px;width:50.90px"><span>1 (25.40)</span></div>
<div class="c" style="left:22.00px;top:435.14px;width:32.20px"><span>324H</span></div>
<div class="c" style="left:54.20px;top:435.14px;width:64.00px"><span>28 (711.20)</span></div>
<div class="c" style="left:118.20px;top:435.14px;width:63.40px"><span>26 3/4 (679.45)</span></div>
<div class="c" style="left:181.60px;top:435.14px;width:33.90px"><span>5/8-11</span></div>
<div class="c" style="left:215.50px;top:435.14px;width:27.10px"><span>6</span></div>
<div class="c" style="left:242.60px;top:435.14px;width:69.60px"><span>25.500 (647.70)</span></div>
<div class="c" style="left:312.20px;top:435.14px;width:55.20px"><span>24 (609.60)</span></div>
<div class="c" style="left:367.40px;top:435.14px;width:61.60px"><span>9 3/8 (238.13)</span></div>
<div class="c" style="left:429.00px;top:435.14px;width:64.60px"><span>7 (177.80)</span></div>
<div class="c" style="left:493.60px;top:435.14px;width:66.30px"><span>21 (533.40)</span></div>
<div class="c" style="left:559.90px;top:435.14px;width:68.10px"><span>27 (685.80)</span></div>
<div class="c" style="left:628.00px;top:435.14px;width:64.90px"><span>10 1/2 (266.70)</span></div>
<div class="c" style="left:692.90px;top:435.14px;width:59.70px"><span>6 1/4 (158.75)</span></div>
<div class="c" style="left:752.60px;top:435.14px;width:50.90px"><span>1 (25.40)</span></div>
<div class="c g" style="left:22.00px;top:448.18px;width:32.20px"><span>124SHD</span></div>
<div class="c g" style="left:54.20px;top:448.18px;width:64.00px"><span>28 (711.20)</span></div>
<div class="c g" style="left:118.20px;top:448.18px;width:63.40px"><span>26 3/4 (679.45)</span></div>
<div class="c g" style="left:181.60px;top:448.18px;width:33.90px"><span>5/8-11</span></div>
<div class="c g" style="left:215.50px;top:448.18px;width:27.10px"><span>6</span></div>
<div class="c g" style="left:242.60px;top:448.18px;width:69.60px"><span>25.500 (647.70)</span></div>
<div class="c g" style="left:312.20px;top:448.18px;width:55.20px"><span>24 (609.60)</span></div>
<div class="c g" style="left:367.40px;top:448.18px;width:61.60px"><span>5 7/8 (149.23)</span></div>
<div class="c g" style="left:429.00px;top:448.18px;width:64.60px"><span>7 (177.80)</span></div>
<div class="c g" style="left:493.60px;top:448.18px;width:66.30px"><span>21 (533.40)</span></div>
<div class="c g" style="left:559.90px;top:448.18px;width:68.10px"><span>27 (685.80)</span></div>
<div class="c g" style="left:628.00px;top:448.18px;width:64.90px"><span>6 7/8 (174.63)</span></div>
<div class="c g" style="left:692.90px;top:448.18px;width:59.70px"><span>2 13/16 (71.44)</span></div>
<div class="c g" style="left:752.60px;top:448.18px;width:50.90px"><span>1 (25.40)</span></div>
<div class="c" style="left:22.00px;top:461.22px;width:32.20px"><span>224SHD</span></div>
<div class="c" style="left:54.20px;top:461.22px;width:64.00px"><span>28 (711.20)</span></div>
<div class="c" style="left:118.20px;top:461.22px;width:63.40px"><span>26 3/4 (679.45)</span></div>
<div class="c" style="left:181.60px;top:461.22px;width:33.90px"><span>5/8-11</span></div>
<div class="c" style="left:215.50px;top:461.22px;width:27.10px"><span>6</span></div>
<div class="c" style="left:242.60px;top:461.22px;width:69.60px"><span>25.500 (647.70)</span></div>
<div class="c" style="left:312.20px;top:461.22px;width:55.20px"><span>24 (609.60)</span></div>
<div class="c" style="left:367.40px;top:461.22px;width:61.60px"><span>7 1/4 (184.15)</span></div>
<div class="c" style="left:429.00px;top:461.22px;width:64.60px"><span>7 (177.80)</span></div>
<div class="c" style="left:493.60px;top:461.22px;width:66.30px"><span>21 (533.40)</span></div>
<div class="c" style="left:559.90px;top:461.22px;width:68.10px"><span>27 (685.80)</span></div>
<div class="c" style="left:628.00px;top:461.22px;width:64.90px"><span>8 1/2 (215.90)</span></div>
<div class="c" style="left:692.90px;top:461.22px;width:59.70px"><span>4 1/2 (114.30)</span></div>
<div class="c" style="left:752.60px;top:461.22px;width:50.90px"><span>1 (25.40)</span></div>
<div class="c g" style="left:22.00px;top:474.26px;width:32.20px"><span>324SHD</span></div>
<div class="c g" style="left:54.20px;top:474.26px;width:64.00px"><span>28 (711.20)</span></div>
<div class="c g" style="left:118.20px;top:474.26px;width:63.40px"><span>26 3/4 (679.45)</span></div>
<div class="c g" style="left:181.60px;top:474.26px;width:33.90px"><span>5/8-11</span></div>
<div class="c g" style="left:215.50px;top:474.26px;width:27.10px"><span>6</span></div>
<div class="c g" style="left:242.60px;top:474.26px;width:69.60px"><span>25.500 (647.70)</span></div>
<div class="c g" style="left:312.20px;top:474.26px;width:55.20px"><span>24 (609.60)</span></div>
<div class="c g" style="left:367.40px;top:474.26px;width:61.60px"><span>9 3/8 (238.13)</span></div>
<div class="c g" style="left:429.00px;top:474.26px;width:64.60px"><span>7 (177.80)</span></div>
<div class="c g" style="left:493.60px;top:474.26px;width:66.30px"><span>21 (533.40)</span></div>
<div class="c g" style="left:559.90px;top:474.26px;width:68.10px"><span>27 (685.80)</span></div>
<div class="c g" style="left:628.00px;top:474.26px;width:64.90px"><span>10 1/2 (266.70)</span></div>
<div class="c g" style="left:692.90px;top:474.26px;width:59.70px"><span>6 1/4 (158.75)</span></div>
<div class="c g" style="left:752.60px;top:474.26px;width:50.90px"><span>1 (25.40)</span></div>
<div class="c" style="left:22.00px;top:487.30px;width:32.20px"><span>227</span></div>
<div class="c" style="left:54.20px;top:487.30px;width:64.00px"><span>31 (787.40)</span></div>
<div class="c" style="left:118.20px;top:487.30px;width:63.40px"><span>29 3/4 (755.65)</span></div>
<div class="c" style="left:181.60px;top:487.30px;width:33.90px"><span>5/8-11</span></div>
<div class="c" style="left:215.50px;top:487.30px;width:27.10px"><span>12</span></div>
<div class="c" style="left:242.60px;top:487.30px;width:69.60px"><span>28.500 (723.90)</span></div>
<div class="c" style="left:312.20px;top:487.30px;width:55.20px"><span>27 (685.80)</span></div>
<div class="c" style="left:367.40px;top:487.30px;width:61.60px"><span>7 (177.80)</span></div>
<div class="c" style="left:429.00px;top:487.30px;width:64.60px"><span>9 (228.60)</span></div>
<div class="c" style="left:493.60px;top:487.30px;width:66.30px"><span>21 (533.40)</span></div>
<div class="c" style="left:559.90px;top:487.30px;width:68.10px"><span>27 (685.80)</span></div>
<div class="c" style="left:628.00px;top:487.30px;width:64.90px"><span>8 3/4 (222.25)</span></div>
<div class="c" style="left:692.90px;top:487.30px;width:59.70px"><span>4 1/2 (114.30)</span></div>
<div class="c" style="left:752.60px;top:487.30px;width:50.90px"><span>1 (25.4)</span></div>
<div class="c g" style="left:22.00px;top:500.34px;width:32.20px"><span>327</span></div>
<div class="c g" style="left:54.20px;top:500.34px;width:64.00px"><span>31 (787.40)</span></div>
<div class="c g" style="left:118.20px;top:500.34px;width:63.40px"><span>29 3/4 (755.65)</span></div>
<div class="c g" style="left:181.60px;top:500.34px;width:33.90px"><span>5/8-11</span></div>
<div class="c g" style="left:215.50px;top:500.34px;width:27.10px"><span>12</span></div>
<div class="c g" style="left:242.60px;top:500.34px;width:69.60px"><span>28.500 (723.90)</span></div>
<div class="c g" style="left:312.20px;top:500.34px;width:55.20px"><span>27 (685.80)</span></div>
<div class="c g" style="left:367.40px;top:500.34px;width:61.60px"><span>9 (228.60)</span></div>
<div class="c g" style="left:429.00px;top:500.34px;width:64.60px"><span>9 (228.60)</span></div>
<div class="c g" style="left:493.60px;top:500.34px;width:66.30px"><span>21 (533.40)</span></div>
<div class="c g" style="left:559.90px;top:500.34px;width:68.10px"><span>27 (685.80)</span></div>
<div class="c g" style="left:628.00px;top:500.34px;width:64.90px"><span>10 3/4 (273.05)</span></div>
<div class="c g" style="left:692.90px;top:500.34px;width:59.70px"><span>6 1/2 (165.10)</span></div>
<div class="c g" style="left:752.60px;top:500.34px;width:50.90px"><span>1 (25.4)</span></div>
<div class="c" style="left:22.00px;top:513.38px;width:32.20px"><span>230H</span></div>
<div class="c" style="left:54.20px;top:513.38px;width:64.00px"><span>34 (863.60)</span></div>
<div class="c" style="left:118.20px;top:513.38px;width:63.40px"><span>32 3/4 (831.85)</span></div>
<div class="c" style="left:181.60px;top:513.38px;width:33.90px"><span>5/8-11</span></div>
<div class="c" style="left:215.50px;top:513.38px;width:27.10px"><span>12</span></div>
<div class="c" style="left:242.60px;top:513.38px;width:69.60px"><span>31.500 (800.10)</span></div>
<div class="c" style="left:312.20px;top:513.38px;width:55.20px"><span>30 (762.00)</span></div>
<div class="c" style="left:367.40px;top:513.38px;width:61.60px"><span>8 1/2 (215.90)</span></div>
<div class="c" style="left:429.00px;top:513.38px;width:64.60px"><span>9 (228.60)</span></div>
<div class="c" style="left:493.60px;top:513.38px;width:66.30px"><span>24 3/4 (628.65)</span></div>
<div class="c" style="left:559.90px;top:513.38px;width:68.10px"><span>32 3/8 (822.33)</span></div>
<div class="c" style="left:628.00px;top:513.38px;width:64.90px"><span>10 3/16 (258.76)</span></div>
<div class="c" style="left:692.90px;top:513.38px;width:59.70px"><span>5 5/8 (142.88)</span></div>
<div class="c" style="left:752.60px;top:513.38px;width:50.90px"><span>1/4 (6.35)</span></div>
<div class="c g" style="left:22.00px;top:526.42px;width:32.20px"><span>330H</span></div>
<div class="c g" style="left:54.20px;top:526.42px;width:64.00px"><span>34 (863.60)</span></div>
<div class="c g" style="left:118.20px;top:526.42px;width:63.40px"><span>32 3/4 (831.85)</span></div>
<div class="c g" style="left:181.60px;top:526.42px;width:33.90px"><span>5/8-11</span></div>
<div class="c g" style="left:215.50px;top:526.42px;width:27.10px"><span>12</span></div>
<div class="c g" style="left:242.60px;top:526.42px;width:69.60px"><span>31.500 (800.10)</span></div>
<div class="c g" style="left:312.20px;top:526.42px;width:55.20px"><span>30 (762.00)</span></div>
<div class="c g" style="left:367.40px;top:526.42px;width:61.60px"><span>10 7/8 (276.23)</span></div>
<div class="c g" style="left:429.00px;top:526.42px;width:64.60px"><span>9 (228.60)</span></div>
<div class="c g" style="left:493.60px;top:526.42px;width:66.30px"><span>24 3/4 (628.65)</span></div>
<div class="c g" style="left:559.90px;top:526.42px;width:68.10px"><span>32 3/8 (822.33)</span></div>
<div class="c g" style="left:628.00px;top:526.42px;width:64.90px"><span>12 3/4 (323.85)</span></div>
<div class="c g" style="left:692.90px;top:526.42px;width:59.70px"><span>8 1/8 (206.38)</span></div>
<div class="c g" style="left:752.60px;top:526.42px;width:50.90px"><span>1/4 (6.35)</span></div>
<div class="c" style="left:22.00px;top:539.46px;width:32.20px"><span>236</span></div>
<div class="c" style="left:54.20px;top:539.46px;width:64.00px"><span>41 (1041.40)</span></div>
<div class="c" style="left:118.20px;top:539.46px;width:63.40px"><span>39 3/4 (1009.65)</span></div>
<div class="c" style="left:181.60px;top:539.46px;width:33.90px"><span>5/8-11</span></div>
<div class="c" style="left:215.50px;top:539.46px;width:27.10px"><span>16</span></div>
<div class="c" style="left:242.60px;top:539.46px;width:69.60px"><span>38.500 (977.90)</span></div>
<div class="c" style="left:312.20px;top:539.46px;width:55.20px"><span>36 (914.40)</span></div>
<div class="c" style="left:367.40px;top:539.46px;width:61.60px"><span>9 3/4 (247.65)</span></div>
<div class="c" style="left:429.00px;top:539.46px;width:64.60px"><span>13 1/2 (342.90)</span></div>
<div class="c" style="left:493.60px;top:539.46px;width:66.30px"><span>30 1/2 (774.70)</span></div>
<div class="c" style="left:559.90px;top:539.46px;width:68.10px"><span>38 1/4 (971.55)</span></div>
<div class="c" style="left:628.00px;top:539.46px;width:64.90px"><span>11 7/8 (301.63)</span></div>
<div class="c" style="left:692.90px;top:539.46px;width:59.70px"><span>6 1/4 (158.75)</span></div>
<div class="c" style="left:752.60px;top:539.46px;width:50.90px"><span>1/4 (6.35)</span></div>
<div class="c g" style="left:22.00px;top:552.50px;width:32.20px"><span>336</span></div>
<div class="c g" style="left:54.20px;top:552.50px;width:64.00px"><span>41 (1041.40)</span></div>
<div class="c g" style="left:118.20px;top:552.50px;width:63.40px"><span>39 3/4 (1009.65)</span></div>
<div class="c g" style="left:181.60px;top:552.50px;width:33.90px"><span>5/8-11</span></div>
<div class="c g" style="left:215.50px;top:552.50px;width:27.10px"><span>16</span></div>
<div class="c g" style="left:242.60px;top:552.50px;width:69.60px"><span>38.500 (977.90)</span></div>
<div class="c g" style="left:312.20px;top:552.50px;width:55.20px"><span>36 (914.40)</span></div>
<div class="c g" style="left:367.40px;top:552.50px;width:61.60px"><span>12 7/8 (327.03)</span></div>
<div class="c g" style="left:429.00px;top:552.50px;width:64.60px"><span>13 1/2 (342.90)</span></div>
<div class="c g" style="left:493.60px;top:552.50px;width:66.30px"><span>30 1/2 (774.70)</span></div>
<div class="c g" style="left:559.90px;top:552.50px;width:68.10px"><span>38 1/4 (971.55)</span></div>
<div class="c g" style="left:628.00px;top:552.50px;width:64.90px"><span>14 3/4 (374.65)</span></div>
<div class="c g" style="left:692.90px;top:552.50px;width:59.70px"><span>9 1/8 (231.78)</span></div>
<div class="c g" style="left:752.60px;top:552.50px;width:50.90px"><span>1/4 (6.35)</span></div>
<div class="c" style="left:22.00px;top:565.54px;width:32.20px"><span>242</span></div>
<div class="c" style="left:54.20px;top:565.54px;width:64.00px"><span>49 1/4 (1250.95)</span></div>
<div class="c" style="left:118.20px;top:565.54px;width:63.40px"><span>47 1/4 (1200.15)</span></div>
<div class="c" style="left:181.60px;top:565.54px;width:33.90px"><span>1-8</span></div>
<div class="c" style="left:215.50px;top:565.54px;width:27.10px"><span>12</span></div>
<div class="c" style="left:242.60px;top:565.54px;width:69.60px"><span>45.000 (1143.00)</span></div>
<div class="c" style="left:312.20px;top:565.54px;width:55.20px"><span>42 (1066.80)</span></div>
<div class="c" style="left:367.40px;top:565.54px;width:61.60px"><span>10 1/2 (266.70)</span></div>
<div class="c" style="left:429.00px;top:565.54px;width:64.60px"><span>21 1/16 (534.99)</span></div>
<div class="c" style="left:493.60px;top:565.54px;width:66.30px"><span>35 (889.00)</span></div>
<div class="c" style="left:559.90px;top:565.54px;width:68.10px"><span>44 1/8 (1120.78)</span></div>
<div class="c" style="left:628.00px;top:565.54px;width:64.90px"><span>11 3/8 (288.93)</span></div>
<div class="c" style="left:692.90px;top:565.54px;width:59.70px"><span>6 1/2 (165.10)</span></div>
<div class="c" style="left:752.60px;top:565.54px;width:50.90px"><span>1 1/4 (31.75)</span></div>
<div class="c g" style="left:22.00px;top:578.58px;width:32.20px"><span>342</span></div>
<div class="c g" style="left:54.20px;top:578.58px;width:64.00px"><span>49 1/4 (1250.95)</span></div>
<div class="c g" style="left:118.20px;top:578.58px;width:63.40px"><span>47 1/4 (1200.15)</span></div>
<div class="c g" style="left:181.60px;top:578.58px;width:33.90px"><span>1-8</span></div>
<div class="c g" style="left:215.50px;top:578.58px;width:27.10px"><span>12</span></div>
<div class="c g" style="left:242.60px;top:578.58px;width:69.60px"><span>45.000 (1143.00)</span></div>
<div class="c g" style="left:312.20px;top:578.58px;width:55.20px"><span>42 (1066.80)</span></div>
<div class="c g" style="left:367.40px;top:578.58px;width:61.60px"><span>11 7/8 (301.63)</span></div>
<div class="c g" style="left:429.00px;top:578.58px;width:64.60px"><span>21 1/16 (534.99)</span></div>
<div class="c g" style="left:493.60px;top:578.58px;width:66.30px"><span>35 (889.00)</span></div>
<div class="c g" style="left:559.90px;top:578.58px;width:68.10px"><span>44 1/8 (1120.78)</span></div>
<div class="c g" style="left:628.00px;top:578.58px;width:64.90px"><span>14 1/8 (358.78)</span></div>
<div class="c g" style="left:692.90px;top:578.58px;width:59.70px"><span>9 5/8 (244.48)</span></div>
<div class="c g" style="left:752.60px;top:578.58px;width:50.90px"><span>1 1/4 (31.75)</span></div>
<div class="c" style="left:22.00px;top:591.62px;width:32.20px"><span>248</span></div>
<div class="c" style="left:54.20px;top:591.62px;width:64.00px"><span>56 (1422.41)</span></div>
<div class="c" style="left:118.20px;top:591.62px;width:63.40px"><span>54 (1371.61)</span></div>
<div class="c" style="left:181.60px;top:591.62px;width:33.90px"><span>1-8</span></div>
<div class="c" style="left:215.50px;top:591.62px;width:27.10px"><span>12</span></div>
<div class="c" style="left:242.60px;top:591.62px;width:69.60px"><span>52.000 (1320.81)</span></div>
<div class="c" style="left:312.20px;top:591.62px;width:55.20px"><span>48 (1219.20)</span></div>
<div class="c" style="left:367.40px;top:591.62px;width:61.60px"><span>10 7/8 (276.23)</span></div>
<div class="c" style="left:429.00px;top:591.62px;width:64.60px"><span>21 (533.40)</span></div>
<div class="c" style="left:493.60px;top:591.62px;width:66.30px"><span>40 (1016.00)</span></div>
<div class="c" style="left:559.90px;top:591.62px;width:68.10px"><span>52 3/8 (1330.33)</span></div>
<div class="c" style="left:628.00px;top:591.62px;width:64.90px"><span>13 (330.20)</span></div>
<div class="c" style="left:692.90px;top:591.62px;width:59.70px"><span>7 1/2 (190.50)</span></div>
<div class="c" style="left:752.60px;top:591.62px;width:50.90px"><span>3/4 (19.05)</span></div>
<div class="c g" style="left:22.00px;top:604.66px;width:32.20px"><span>348</span></div>
<div class="c g" style="left:54.20px;top:604.66px;width:64.00px"><span>56 (1422.41)</span></div>
<div class="c g" style="left:118.20px;top:604.66px;width:63.40px"><span>54 (1371.61)</span></div>
<div class="c g" style="left:181.60px;top:604.66px;width:33.90px"><span>1-8</span></div>
<div class="c g" style="left:215.50px;top:604.66px;width:27.10px"><span>12</span></div>
<div class="c g" style="left:242.60px;top:604.66px;width:69.60px"><span>52.000 (1320.81)</span></div>
<div class="c g" style="left:312.20px;top:604.66px;width:55.20px"><span>48 (1219.20)</span></div>
<div class="c g" style="left:367.40px;top:604.66px;width:61.60px"><span>13 5/8 (346.08)</span></div>
<div class="c g" style="left:429.00px;top:604.66px;width:64.60px"><span>21 (533.40)</span></div>
<div class="c g" style="left:493.60px;top:604.66px;width:66.30px"><span>40 (1016.00)</span></div>
<div class="c g" style="left:559.90px;top:604.66px;width:68.10px"><span>52 3/8 (1330.33)</span></div>
<div class="c g" style="left:628.00px;top:604.66px;width:64.90px"><span>15 3/4 (400.05)</span></div>
<div class="c g" style="left:692.90px;top:604.66px;width:59.70px"><span>9 7/8 (250.83)</span></div>
<div class="c g" style="left:752.60px;top:604.66px;width:50.90px"><span>3/4 (19.05)</span></div>
<div class="c" style="left:22.00px;top:617.70px;width:32.20px"><span>260</span></div>
<div class="c" style="left:54.20px;top:617.70px;width:64.00px"><span>66 3/4 (1695.46)</span></div>
<div class="c" style="left:118.20px;top:617.70px;width:63.40px"><span>64 3/4 (1644.66)</span></div>
<div class="c" style="left:181.60px;top:617.70px;width:33.90px"><span>1-8</span></div>
<div class="c" style="left:215.50px;top:617.70px;width:27.10px"><span>24</span></div>
<div class="c" style="left:242.60px;top:617.70px;width:69.60px"><span>62.750 (1593.86)</span></div>
<div class="c" style="left:312.20px;top:617.70px;width:55.20px"><span>60 (1524.01)</span></div>
<div class="c" style="left:367.40px;top:617.70px;width:61.60px"><span>16 1/4 (412.75)</span></div>
<div class="c" style="left:429.00px;top:617.70px;width:64.60px"><span>22 5/8 (574.68)</span></div>
<div class="c" style="left:493.60px;top:617.70px;width:66.30px"><span>46 1/2 (1181.10)</span></div>
<div class="c" style="left:559.90px;top:617.70px;width:68.10px"><span>61 1/2 (1562.11)</span></div>
<div class="c" style="left:628.00px;top:617.70px;width:64.90px"><span>16 1/4 (412.75)</span></div>
<div class="c" style="left:692.90px;top:617.70px;width:59.70px"><span>9 (228.60)</span></div>
<div class="c" style="left:752.60px;top:617.70px;width:50.90px"><span>1/4 (6.35)</span></div>
<div class="c g" style="left:22.00px;top:630.74px;width:32.20px"><span>360</span></div>
<div class="c g" style="left:54.20px;top:630.74px;width:64.00px"><span>66 3/4 (1695.46)</span></div>
<div class="c g" style="left:118.20px;top:630.74px;width:63.40px"><span>64 3/4 (1644.66)</span></div>
<div class="c g" style="left:181.60px;top:630.74px;width:33.90px"><span>1-8</span></div>
<div class="c g" style="left:215.50px;top:630.74px;width:27.10px"><span>24</span></div>
<div class="c g" style="left:242.60px;top:630.74px;width:69.60px"><span>62.750 (1593.86)</span></div>
<div class="c g" style="left:312.20px;top:630.74px;width:55.20px"><span>60 (1524.01)</span></div>
<div class="c g" style="left:367.40px;top:630.74px;width:61.60px"><span>20 (508.00)</span></div>
<div class="c g" style="left:429.00px;top:630.74px;width:64.60px"><span>22 5/8 (574.68)</span></div>
<div class="c g" style="left:493.60px;top:630.74px;width:66.30px"><span>46 1/2 (1181.10)</span></div>
<div class="c g" style="left:559.90px;top:630.74px;width:68.10px"><span>61 1/2 (1562.11)</span></div>
<div class="c g" style="left:628.00px;top:630.74px;width:64.90px"><span>20 (508.00)</span></div>
<div class="c g" style="left:692.90px;top:630.74px;width:59.70px"><span>13 (330.20)</span></div>
<div class="c g" style="left:752.60px;top:630.74px;width:50.90px"><span>1/4 (6.35)</span></div>
<div class="c" style="left:22.00px;top:643.78px;width:32.20px"><span>460</span></div>
<div class="c" style="left:54.20px;top:643.78px;width:64.00px"><span>66 3/4 (1695.46)</span></div>
<div class="c" style="left:118.20px;top:643.78px;width:63.40px"><span>64 3/4 (1644.66)</span></div>
<div class="c" style="left:181.60px;top:643.78px;width:33.90px"><span>1-8</span></div>
<div class="c" style="left:215.50px;top:643.78px;width:27.10px"><span>24</span></div>
<div class="c" style="left:242.60px;top:643.78px;width:69.60px"><span>62.750 (1593.86)</span></div>
<div class="c" style="left:312.20px;top:643.78px;width:55.20px"><span>60 (1524.01)</span></div>
<div class="c" style="left:367.40px;top:643.78px;width:61.60px"><span>23 1/2 (596.90)</span></div>
<div class="c" style="left:429.00px;top:643.78px;width:64.60px"><span>22 5/8 (574.68)</span></div>
<div class="c" style="left:493.60px;top:643.78px;width:66.30px"><span>46 1/2 (1181.10)</span></div>
<div class="c" style="left:559.90px;top:643.78px;width:68.10px"><span>61 1/2 (1562.11)</span></div>
<div class="c" style="left:628.00px;top:643.78px;width:64.90px"><span>23 1/2 (596.90)</span></div>
<div class="c" style="left:692.90px;top:643.78px;width:59.70px"><span>16 1/2 (419.10)</span></div>
<div class="c" style="left:752.60px;top:643.78px;width:50.90px"><span>1/4 (6.35)</span></div>
<div class="h" style="left:-15.20px;top:54.30px;width:100px;display:flex;justify-content:center"><span>SIZE</span></div>
<div class="h" style="left:40.80px;top:54.30px;width:100px;display:flex;justify-content:center"><span>A</span></div>
<div class="h" style="left:97.40px;top:54.30px;width:100px;display:flex;justify-content:center"><span>B</span></div>
<div class="h" style="left:148.50px;top:54.30px;width:100px;display:flex;justify-content:center"><span>BOLT</span></div>
<div class="h" style="left:148.50px;top:70.10px;width:100px;display:flex;justify-content:center"><span>SIZE</span></div>
<div class="h" style="left:179.20px;top:54.30px;width:100px;display:flex;justify-content:center"><span>QTY</span></div>
<div class="h" style="left:226.90px;top:44.10px;width:100px;display:flex;justify-content:center"><span>C</span></div>
<div class="h" style="left:291.30px;top:54.30px;width:100px;display:flex;justify-content:center"><span>D</span></div>
<div class="h" style="left:349.60px;top:54.30px;width:100px;display:flex;justify-content:center"><span>E</span></div>
<div class="h" style="left:411.30px;top:54.30px;width:100px;display:flex;justify-content:center"><span>F</span></div>
<div class="h" style="left:474.60px;top:54.30px;width:100px;display:flex;justify-content:center"><span>G</span></div>
<div class="h" style="left:544.50px;top:54.30px;width:100px;display:flex;justify-content:center"><span>H</span></div>
<div class="h" style="left:610.90px;top:54.30px;width:100px;display:flex;justify-content:center"><span>I</span></div>
<div class="h" style="left:672.90px;top:54.30px;width:100px;display:flex;justify-content:center"><span>J</span></div>
<div class="h" style="left:731.90px;top:54.30px;width:100px;display:flex;justify-content:center"><span>K</span></div>
<div class="h" style="left:225.60px;top:63.20px;width:100px;display:flex;justify-content:center;font-size:10px"><span style="display:inline-block;transform:scaleX(0.8);-webkit-text-stroke:0.3px #ececec">+.003/-.000</span></div>
<div class="h" style="left:225.60px;top:78.20px;width:100px;display:flex;justify-content:center;font-size:10px"><span style="display:inline-block;transform:scaleX(0.8);-webkit-text-stroke:0.3px #ececec">(+.076/-.000)</span></div>
<div class="a" style="left:19.8px;top:662px;font-size:12.13px;line-height:14px;color:#222;white-space:pre">Certified prints available on request. See page 8 for accessories and typical hosing arrangements.</div>
<div class="a" style="left:421.5px;top:676.2px;font-size:12px;line-height:14px;color:#222;white-space:pre">9</div>
</body></html>
